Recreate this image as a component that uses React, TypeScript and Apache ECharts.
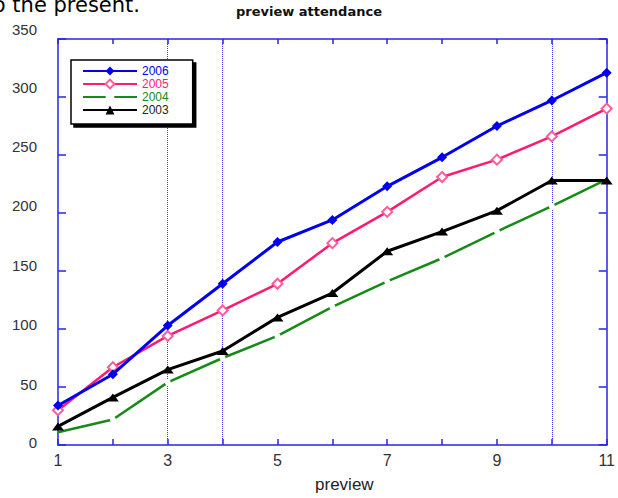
import React, { useEffect, useRef } from "react";
import * as echarts from "echarts";

const previews = [1, 2, 3, 4, 5, 6, 7, 8, 9, 10, 11];
const years = ["2006", "2005", "2004", "2003"];
const v2006 = [34, 61, 103, 139, 175, 194, 223, 248, 275, 297, 321];
const v2005 = [30, 67, 94, 116, 139, 174, 201, 231, 246, 266, 290];
const v2004 = [11, 22, 54, 75, 94, 119, 141, 161, 184, 206, 229];
const v2003 = [16, 41, 65, 81, 110, 131, 167, 184, 202, 228, 228];
const yTicks = [0, 50, 100, 150, 200, 250, 300, 350];
const yLabelLift = [3, 3, 5, 6, 8, 9, 10, 10];
const dottedAt = [3, 4, 10];

const AXIS_BLUE = "#2424e6";
const C2006 = "#0000ee";
const C2005 = "#ff1a72";
const C2004 = "#178a17";
const C2003 = "#000000";

function pairs(vals: number[]) {
  return previews.map((x, i) => [x, vals[i]]);
}

export default function App() {
  const ref = useRef<HTMLDivElement>(null);
  useEffect(() => {
    if (!ref.current) return;
    const chart = echarts.init(ref.current, null, { renderer: "svg" });
    const rich: Record<string, any> = {};
    yTicks.forEach((v, i) => {
      rich["o" + v] = {
        padding: [0, 0, yLabelLift[i] * 2, 0],
        fontSize: 15,
        color: "#333",
        fontFamily: "Liberation Sans",
      };
    });
    const axisCommon = {
      axisLine: { show: true, onZero: false, lineStyle: { color: AXIS_BLUE, width: 1.5 } },
      splitLine: { show: false },
    };
    const greenData = pairs(v2004).map((p, i) =>
      i === 0 || i === previews.length - 1 ? { value: p, symbol: "none" } : { value: p }
    );
    chart.setOption({
      animation: false,
      backgroundColor: "#fff",
      title: {
        text: "preview attendance",
        left: "center",
        top: 0,
        textStyle: { fontSize: 13, fontWeight: "bold", color: "#111", fontFamily: "DejaVu Sans" },
      },
      graphic: [
        {
          type: "text",
          x: 140,
          y: 15,
          style: {
            text: "to the present.",
            align: "right",
            verticalAlign: "bottom",
            fontSize: 21,
            fontFamily: "DejaVu Sans",
            fill: "#000",
          },
        },
      ],
      legend: {
        orient: "vertical",
        left: 71,
        top: 60,
        selectedMode: false,
        itemWidth: 54,
        itemHeight: 11,
        itemGap: 1,
        padding: [5, 24, 8, 11],
        backgroundColor: "#fff",
        borderColor: "#000",
        borderWidth: 1.5,
        shadowColor: "#000",
        shadowOffsetX: 3,
        shadowOffsetY: 3,
        shadowBlur: 0,
        textStyle: { fontSize: 12, lineHeight: 11, fontFamily: "Liberation Sans" },
        data: [
          { name: years[0], textStyle: { color: C2006 } },
          { name: years[1], textStyle: { color: C2005 } },
          { name: years[2], textStyle: { color: C2004 }, itemStyle: { color: "#fff", borderWidth: 0 } },
          { name: years[3], textStyle: { color: "#222" } },
        ],
      },
      grid: { left: 58, right: 5, top: 39, bottom: 52 },
      xAxis: [
        {
          type: "value",
          position: "bottom",
          min: 1,
          max: 11,
          interval: 1,
          ...axisCommon,
          axisTick: { show: true, inside: true, length: 6, lineStyle: { color: AXIS_BLUE, width: 1.5 } },
          axisLabel: {
            margin: 7,
            fontSize: 16,
            color: "#333",
            fontFamily: "Liberation Sans",
            formatter: (v: number) => (v % 2 === 1 ? String(v) : ""),
          },
          name: "preview",
          nameLocation: "middle",
          nameGap: 31,
          nameTextStyle: { fontSize: 17, color: "#222", fontFamily: "Liberation Sans", padding: [0, 0, 0, 24] },
        },
        {
          type: "value",
          position: "top",
          min: 1,
          max: 11,
          interval: 1,
          ...axisCommon,
          axisTick: { show: true, inside: true, length: 5, lineStyle: { color: AXIS_BLUE, width: 1.5 } },
          axisLabel: { show: false },
        },
      ],
      yAxis: [
        {
          type: "value",
          position: "left",
          min: 0,
          max: 350,
          interval: 50,
          ...axisCommon,
          axisTick: { show: true, inside: true, length: 8, lineStyle: { color: AXIS_BLUE, width: 1.5 } },
          axisLabel: {
            margin: 21,
            showMinLabel: true,
            showMaxLabel: true,
            formatter: (v: number) => `{o${v}|${v}}`,
            rich,
          },
        },
        {
          type: "value",
          position: "right",
          min: 0,
          max: 350,
          interval: 50,
          ...axisCommon,
          axisTick: { show: true, inside: true, length: 8, lineStyle: { color: AXIS_BLUE, width: 1.5 } },
          axisLabel: { show: false },
        },
      ],
      series: [
        {
          name: years[0],
          type: "line",
          data: pairs(v2006),
          symbol: "diamond",
          symbolSize: 10,
          itemStyle: { color: C2006 },
          lineStyle: { color: C2006, width: 3 },
          z: 5,
          markLine: {
            silent: true,
            symbol: "none",
            label: { show: false },
            lineStyle: { color: "#3a3aff", type: [1, 1], width: 1 },
            data: dottedAt.map((x) => ({ xAxis: x })),
            z: 1,
          },
        },
        {
          name: years[1],
          type: "line",
          data: pairs(v2005),
          symbol: "emptyDiamond",
          symbolSize: 10,
          itemStyle: { color: "#ff5c9a", borderWidth: 1 },
          lineStyle: { color: C2005, width: 2.5 },
          z: 4,
        },
        {
          name: years[2],
          type: "line",
          data: greenData,
          symbol: "circle",
          symbolSize: 6,
          itemStyle: { color: "#fff", borderWidth: 0 },
          lineStyle: { color: C2004, width: 2.5 },
          z: 2,
        },
        {
          name: years[3],
          type: "line",
          data: pairs(v2003),
          symbol: "triangle",
          symbolSize: [12, 8],
          itemStyle: { color: C2003 },
          lineStyle: { color: C2003, width: 3 },
          z: 3,
        },
      ],
    });
    return () => chart.dispose();
  }, []);
  return (
    <div
      ref={ref}
      style={{ position: "fixed", left: 0, top: 0, width: 618, height: 498 }}
    />
  );
}
